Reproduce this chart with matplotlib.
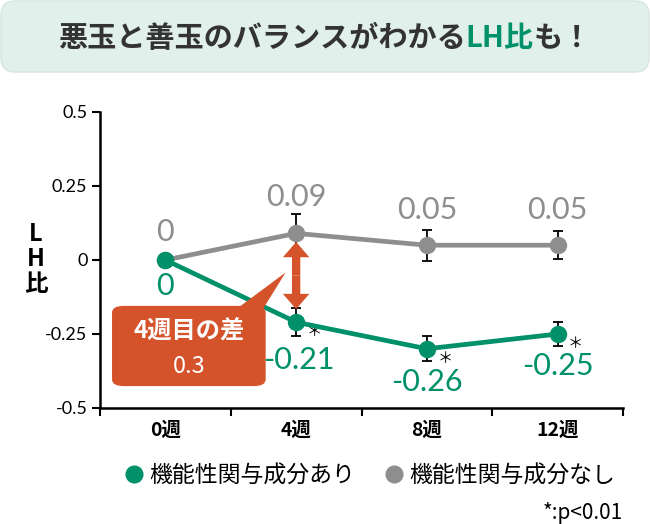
import matplotlib.pyplot as plt
import numpy as np
from matplotlib.patches import FancyBboxPatch, Polygon, FancyArrowPatch
from matplotlib.lines import Line2D
from matplotlib.transforms import IdentityTransform

plt.rcParams['font.family'] = ['Noto Sans CJK JP', 'DejaVu Sans']

################################################
# Data
################################################
weeks = ['0週', '4週', '8週', '12週']

# 機能性関与成分あり
with_values = [0, -0.21, -0.30, -0.25]
with_err = [0, 0.047, 0.042, 0.042]
with_labels = ['0', '-0.21', '-0.26', '-0.25']
with_signif = [False, True, True, True]

# 機能性関与成分なし
without_values = [0, 0.09, 0.05, 0.05]
without_err = [0, 0.064, 0.052, 0.047]
without_labels = ['0', '0.09', '0.05', '0.05']

yticks = [-0.5, -0.25, 0, 0.25, 0.5]
ytick_labels = ['-0.5', '-0.25', '0', '0.25', '0.5']

diff_week = 1
diff_label = '0.3'

GREEN = '#00906a'
GRAY = '#8e8e8e'
ORANGE = '#d4532b'
DARK = '#333333'
NUM_FONT = ['Lato', 'DejaVu Sans']

################################################
# Plot
################################################
fig = plt.figure(figsize=(6.5, 5.24), dpi=100)
ax = fig.add_axes([100 / 650, 1 - 408 / 524, 523 / 650, 296 / 524])

x = np.arange(len(weeks))

ax.errorbar(x, without_values, yerr=without_err, color=GRAY, lw=3.4,
            marker='o', ms=11.5, ecolor='black', elinewidth=1.3,
            capsize=3.5, capthick=1.3, zorder=3)
ax.errorbar(x, with_values, yerr=with_err, color=GREEN, lw=3.4,
            marker='o', ms=11.5, ecolor='black', elinewidth=1.3,
            capsize=3.5, capthick=1.3, zorder=4)

# value labels
gray_dy = [20, 26, 25, 25]
green_dy = [-19, -27, -24, -23]
for i in range(len(weeks)):
    ax.annotate(without_labels[i], (x[i], without_values[i]), xytext=(0, gray_dy[i]),
                textcoords='offset points', ha='center', va='center',
                fontsize=22, color=GRAY, family=NUM_FONT)
    ax.annotate(with_labels[i], (x[i], with_values[i]), xytext=(2 if i == 1 else 0, green_dy[i]),
                textcoords='offset points', ha='center', va='center',
                fontsize=22, color=GREEN, family=NUM_FONT)
    if with_signif[i]:
        ax.annotate('＊', (x[i], with_values[i]), xytext=(13, -7),
                    textcoords='offset points', ha='center', va='center',
                    fontsize=11, color='black')

# double arrow at week 4
top = without_values[diff_week] - 0.029
bot = with_values[diff_week] + 0.044
mid = (top + bot) / 2
for end in (top, bot):
    ax.add_patch(FancyArrowPatch((diff_week, mid), (diff_week, end),
                                 arrowstyle='simple,head_length=11,head_width=19,tail_width=6',
                                 mutation_scale=1, color=ORANGE, lw=0,
                                 shrinkA=0, shrinkB=0, zorder=6))

# callout box
ax.add_patch(FancyBboxPatch((-0.408, -0.426), 1.175, 0.271,
                            boxstyle='round,pad=0,rounding_size=0.09',
                            mutation_aspect=0.25,
                            fc=ORANGE, ec='none', zorder=7, clip_on=False))
ax.add_patch(Polygon([(0.53, -0.17), (0.74, -0.17), (0.92, -0.042)],
                     closed=True, fc=ORANGE, ec='none', zorder=7))
ax.text(0.18, -0.24, '4週目の差', ha='center', va='center', color='white',
        fontsize=17.5, weight='bold', zorder=8)
ax.text(0.18, -0.36, diff_label, ha='center', va='center', color='white',
        fontsize=17, zorder=8)

# axes
ax.set_xlim(-0.5, len(weeks) - 0.5)
ax.set_ylim(-0.5, 0.5)
ax.set_yticks(yticks)
ax.set_yticklabels(ytick_labels, family=NUM_FONT, fontsize=13)
ax.set_xticks(x)
ax.set_xticklabels(weeks, fontsize=14, weight='bold')
ax.set_xticks(np.arange(len(weeks) + 1) - 0.5, minor=True)
ax.tick_params(axis='x', which='major', length=0, pad=9)
ax.tick_params(axis='x', which='minor', length=6, width=1.5, direction='out')
ax.tick_params(axis='y', length=6, width=1.5, direction='out', pad=3)
for s in ['top', 'right']:
    ax.spines[s].set_visible(False)
for s in ['left', 'bottom']:
    ax.spines[s].set_linewidth(1.8)

fig.text(36 / 650, 1 - 259 / 524, 'L\nH\n比', ha='center', va='center',
         fontsize=17, weight='bold', linespacing=1.05)

# legend
handles = [Line2D([], [], marker='o', ls='', color=GREEN, ms=12),
           Line2D([], [], marker='o', ls='', color=GRAY, ms=12)]
fig.legend(handles, ['機能性関与成分あり', '機能性関与成分なし'], loc='center',
           bbox_to_anchor=(370 / 650, 1 - 476 / 524), ncol=2, frameon=False,
           fontsize=16.5, handlelength=0.8, handletextpad=0.25, columnspacing=1.3)
fig.text(623 / 650, 1 - 513 / 524, '*:p<0.01', ha='right', va='center', fontsize=15)

# title banner
fig.add_artist(FancyBboxPatch((1, 452), 648, 71, boxstyle='round,pad=0,rounding_size=14',
                              transform=IdentityTransform(), fc='#e1f0ea', ec='#d5e5df', lw=1))
parts = [('悪玉と善玉のバランスがわかる', DARK), ('LH比', GREEN), ('も！', DARK)]
texts = [fig.text(0, 1 - 38 / 524, p, color=c, fontsize=21, weight='bold', va='center')
         for p, c in parts]
renderer = fig.canvas.get_renderer()
widths = [t.get_window_extent(renderer).width for t in texts]
x0 = (650 - sum(widths)) / 2
for t, w in zip(texts, widths):
    t.set_x(x0 / 650)
    x0 += w

plt.savefig('out.png', dpi=100)
